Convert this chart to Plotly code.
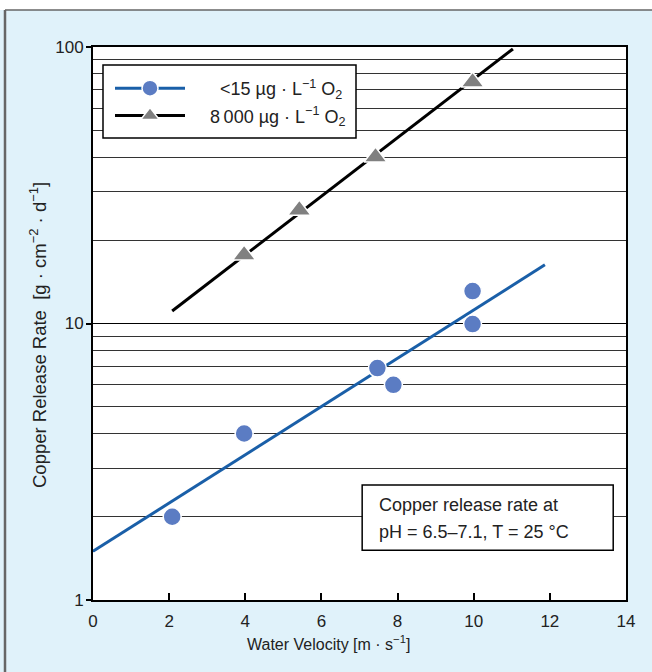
import plotly.graph_objects as go

# ---- data ----
low_o2_x = [2.08, 3.97, 7.47, 7.89, 9.97, 9.97]
low_o2_y = [2.0, 4.0, 6.9, 6.0, 13.1, 9.95]
high_o2_x = [3.97, 5.42, 7.42, 9.97]
high_o2_y = [17.7, 25.7, 40.0, 74.7]
low_fit_x = [0.0, 11.87]
low_fit_y = [1.50, 16.3]
high_fit_x = [2.08, 11.03]
high_fit_y = [11.1, 98.4]
x_ticks = [0, 2, 4, 6, 8, 10, 12, 14]
y_ticks = [1, 10, 100]
y_minor = [2, 3, 4, 5, 6, 7, 8, 9, 20, 30, 40, 50, 60, 70, 80, 90]
NB = "\u00a0"
label_low = NB * 6 + "&lt;15 µg · L<sup>−1</sup> O<sub>2</sub>"
label_high = NB * 4 + "8\u2009000 µg · L<sup>−1</sup> O<sub>2</sub>"

BLUE_LINE = "#1a5fa8"
BLUE_DOT = "#5b7cc3"
GRAY_TRI = "#808080"
FONT = "Liberation Sans, Arial, sans-serif"
BG = "#e0f2fa"

fig = go.Figure()
# fit lines
fig.add_trace(go.Scatter(x=low_fit_x, y=low_fit_y, mode="lines",
                         line=dict(color=BLUE_LINE, width=3), showlegend=False))
fig.add_trace(go.Scatter(x=high_fit_x, y=high_fit_y, mode="lines",
                         line=dict(color="black", width=3), showlegend=False))
# markers
fig.add_trace(go.Scatter(x=low_o2_x, y=low_o2_y, mode="markers",
                         marker=dict(symbol="circle", size=18, color=BLUE_DOT,
                                     line=dict(color="white", width=1.5)),
                         showlegend=False))
fig.add_trace(go.Scatter(x=high_o2_x, y=high_o2_y, mode="markers",
                         marker=dict(symbol="triangle-up", size=20, color=GRAY_TRI,
                                     line=dict(color="white", width=1.5)),
                         showlegend=False))
# legend entries
fig.add_trace(go.Scatter(x=[None], y=[None], mode="lines+markers", name=label_low,
                         legendgroup="a",
                         line=dict(color=BLUE_LINE, width=3),
                         marker=dict(symbol="circle", size=18, color=BLUE_DOT,
                                     line=dict(color="white", width=1.5))))
fig.add_trace(go.Scatter(x=[None], y=[None], mode="lines+markers", name=label_high,
                         legendgroup="b",
                         line=dict(color="black", width=3),
                         marker=dict(symbol="triangle-up", size=20, color=GRAY_TRI,
                                     line=dict(color="white", width=1.5))))

fig.update_layout(
    width=652, height=672,
    margin=dict(l=93, r=26, t=47, b=72),
    paper_bgcolor=BG, plot_bgcolor="white",
    font=dict(family=FONT, size=17, color="#222"),
    legend=dict(x=(110 - 93) / 533, y=(600 - 70) / 553, xanchor="left", yanchor="top",
                bgcolor="rgba(0,0,0,0)", borderwidth=0,
                itemwidth=70, font=dict(size=18), tracegroupgap=1,
                traceorder="grouped", itemsizing="trace"),
    xaxis=dict(range=[0, 14], tickvals=x_ticks, ticks="inside", ticklen=7,
               tickcolor="black", tickwidth=1.5, showgrid=False, zeroline=False,
               showline=True, linecolor="black", linewidth=2, mirror=True,
               tickfont=dict(size=17), ticklabelstandoff=5),
    yaxis=dict(type="log", range=[0, 2], tickvals=y_ticks,
               ticktext=[str(v) for v in y_ticks], ticks="outside", ticklen=5,
               tickcolor="black", tickwidth=1.5, ticklabelstandoff=-1,
               showgrid=True, gridcolor="black", gridwidth=1.2,
               showline=True, linecolor="black", linewidth=2, mirror=True,
               zeroline=False, tickfont=dict(size=17),
               minor=dict(tickvals=y_minor, showgrid=True, gridcolor="#333",
                          gridwidth=1, ticks="")),
)

# legend box (drawn as a shape so its size matches the reference)
fig.add_shape(type="rect", xref="paper", yref="paper",
              x0=(103 - 93) / 533, x1=(356 - 93) / 533,
              y0=(600 - 138) / 553, y1=(600 - 65) / 553,
              line=dict(color="black", width=1.5), fillcolor="white")

# y-axis title
fig.add_annotation(text="Copper Release Rate  [g · cm<sup>−2</sup> · d<sup>−1</sup>]",
                   xref="paper", yref="paper", x=(38 - 93) / 533, y=(600 - 335) / 553,
                   xanchor="center", yanchor="middle", textangle=-90,
                   showarrow=False, font=dict(size=18.5))

# x-axis title (slightly left of centre, as in the reference)
fig.add_annotation(text="Water Velocity [m · s<sup>−1</sup>]",
                   xref="paper", yref="paper", x=0.441, y=-0.078,
                   xanchor="center", yanchor="middle", showarrow=False,
                   font=dict(size=16))

# note box
fig.add_shape(type="rect", xref="paper", yref="paper",
              x0=0.505, x1=0.976, y0=0.090, y1=0.208,
              line=dict(color="black", width=1.5), fillcolor="white")
fig.add_annotation(text="Copper release rate at", xref="paper", yref="paper",
                   x=0.533, y=0.172, xanchor="left", yanchor="middle",
                   showarrow=False, font=dict(size=18))
fig.add_annotation(text="pH = 6.5–7.1, T = 25 °C", xref="paper", yref="paper",
                   x=0.533, y=0.123, xanchor="left", yanchor="middle",
                   showarrow=False, font=dict(size=18))

# outer panel: white strip at top + gray border
fig.add_shape(type="rect", xref="paper", yref="paper",
              x0=-0.2, x1=1.1, y0=1 + 37 / 553, y1=1.2,
              line=dict(width=0), fillcolor="white", layer="below")
fig.add_shape(type="line", xref="paper", yref="paper",
              x0=-88 / 533, x1=1.1, y0=1 + 37 / 553, y1=1 + 37 / 553,
              line=dict(color="#666", width=1.5))
fig.add_shape(type="line", xref="paper", yref="paper",
              x0=-88 / 533, x1=-88 / 533, y0=-0.2, y1=1 + 37 / 553,
              line=dict(color="#666", width=2.5))

fig.write_html("out.html")
